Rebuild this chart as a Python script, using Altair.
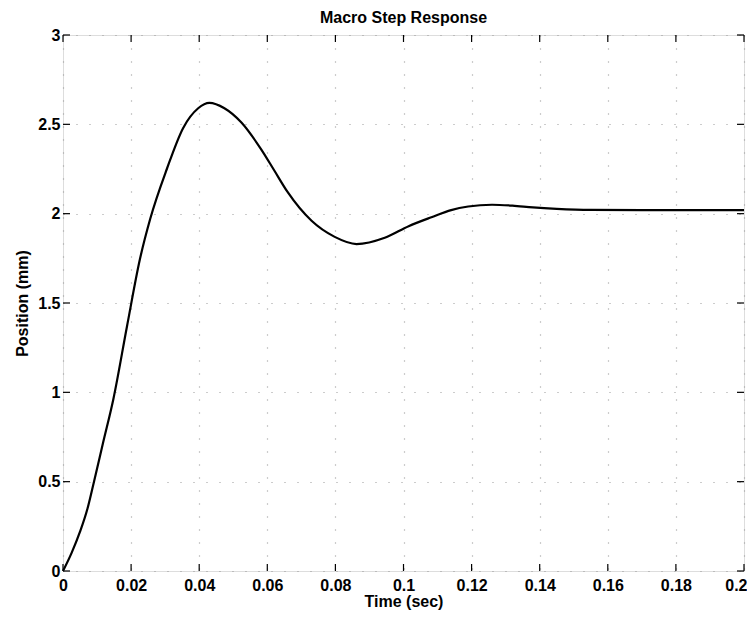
import altair as alt
import pandas as pd

# Data
time_sec = [0, 0.0025, 0.005, 0.0072, 0.0091, 0.0118, 0.0148, 0.0188, 0.0226, 0.0256,
            0.0305, 0.0353, 0.0397, 0.043, 0.0474, 0.0524, 0.0582, 0.0621, 0.066,
            0.073, 0.0798, 0.0862, 0.0945, 0.1015, 0.1082, 0.114, 0.119, 0.126, 0.132,
            0.138, 0.145, 0.155, 0.17, 0.2]
position_mm = [0, 0.1, 0.22, 0.35, 0.5, 0.72, 0.963, 1.37, 1.746, 1.97,
               2.25, 2.48, 2.59, 2.62, 2.59, 2.51, 2.36, 2.24, 2.12,
               1.96, 1.87, 1.83, 1.865, 1.93, 1.98, 2.02, 2.04, 2.05, 2.045,
               2.035, 2.027, 2.021, 2.02, 2.02]
x_ticks = [0, 0.02, 0.04, 0.06, 0.08, 0.1, 0.12, 0.14, 0.16, 0.18, 0.2]
y_ticks = [0, 0.5, 1, 1.5, 2, 2.5, 3]

W, H = 681, 536
FONT = "Liberation Sans"

df = pd.DataFrame({"t": time_sec, "y": position_mm})
xt = pd.DataFrame({"v": x_ticks})
yt = pd.DataFrame({"v": y_ticks})

xscale = alt.Scale(domain=[0, 0.2], nice=False, zero=False)
yscale = alt.Scale(domain=[0, 3], nice=False, zero=False)

xaxis = alt.Axis(values=x_ticks, format="~g", title="Time (sec)", grid=True,
                 gridDash=[1, 12], gridColor="#999", gridWidth=1.2,
                 ticks=False, domain=False, labelFont=FONT, labelFontSize=16,
                 labelFontWeight="bold", labelColor="black", labelPadding=6,
                 labelAlign={"condition": {"test": "datum.value >= 0.199", "value": "right"},
                             "value": "center"},
                 labelOffset={"condition": {"test": "datum.value >= 0.199", "value": 3},
                              "value": 0},
                 titleFont=FONT, titleFontSize=16, titleFontWeight="bold",
                 titleColor="black", titlePadding=0, labelFlush=False)
yaxis = alt.Axis(values=y_ticks, format="~g", title="Position (mm)", grid=True,
                 gridDash=[1, 12], gridColor="#999", gridWidth=1.2,
                 ticks=False, domain=False, labelFont=FONT, labelFontSize=16,
                 labelFontWeight="bold", labelColor="black", labelPadding=3,
                 titleFont=FONT, titleFontSize=16, titleFontWeight="bold",
                 titleColor="black", titlePadding=7, labelFlush=False)

line = alt.Chart(df).mark_line(color="black", strokeWidth=2.2,
                               interpolate="monotone").encode(
    x=alt.X("t:Q", scale=xscale, axis=xaxis),
    y=alt.Y("y:Q", scale=yscale, axis=yaxis),
)

tick_len = 7
xt_bottom = alt.Chart(xt).mark_rule(color="black", strokeWidth=1.2).encode(
    x=alt.X("v:Q", scale=xscale), y=alt.value(H), y2=alt.value(H - tick_len))
xt_top = alt.Chart(xt).mark_rule(color="black", strokeWidth=1.2).encode(
    x=alt.X("v:Q", scale=xscale), y=alt.value(0), y2=alt.value(tick_len))
yt_left = alt.Chart(yt).mark_rule(color="black", strokeWidth=1.2).encode(
    y=alt.Y("v:Q", scale=yscale), x=alt.value(0), x2=alt.value(tick_len))
yt_right = alt.Chart(yt).mark_rule(color="black", strokeWidth=1.2).encode(
    y=alt.Y("v:Q", scale=yscale), x=alt.value(W), x2=alt.value(W - tick_len))

chart = alt.layer(line, xt_bottom, xt_top, yt_left, yt_right).properties(
    width=W, height=H,
    title=alt.TitleParams("Macro Step Response", font=FONT, fontSize=16,
                          fontWeight="bold", color="black", offset=1),
    autosize=alt.AutoSizeParams(type="none"),
    padding={"left": 55, "top": 27, "right": 3, "bottom": 39},
).configure_view(stroke="black", strokeWidth=1.8).configure(background="white")

chart.save("out.html", embed_options={"renderer": "svg", "actions": False})
